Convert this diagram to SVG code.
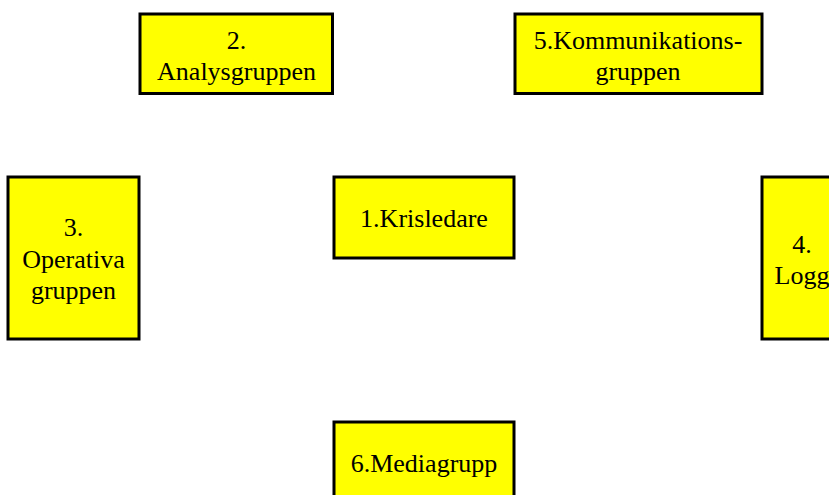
<svg xmlns="http://www.w3.org/2000/svg" width="829" height="495" viewBox="0 0 829 495">
<style>
.box{fill:#FFFF00;stroke:#000;stroke-width:3}
.t{font-family:"Liberation Serif","Times New Roman",serif;font-size:26px;fill:#000;text-anchor:middle}
</style>
<rect width="829" height="495" fill="#fff"/>
<g id="connectors"></g>
<g id="node2">
<rect class="box" x="140" y="14" width="192.5" height="79.5"/>
<text class="t" x="236.5" y="48.5">2.</text>
<text class="t" x="236.5" y="80">Analysgruppen</text>
</g>
<g id="node5">
<rect class="box" x="515" y="14" width="247" height="79.5"/>
<text class="t" x="638" y="48.5">5.Kommunikations-</text>
<text class="t" x="638" y="80">gruppen</text>
</g>
<g id="node3">
<rect class="box" x="8" y="177" width="131" height="162"/>
<text class="t" x="73.5" y="236">3.</text>
<text class="t" x="73.5" y="268">Operativa</text>
<text class="t" x="73.5" y="298.5">gruppen</text>
</g>
<g id="node1">
<rect class="box" x="334" y="177" width="180" height="81"/>
<text class="t" x="424" y="227">1.Krisledare</text>
</g>
<g id="node4">
<rect class="box" x="762" y="177" width="100" height="162"/>
<text class="t" x="802" y="252.5">4.</text>
<text class="t" x="802" y="283.5">Logg</text>
</g>
<g id="node6">
<rect class="box" x="334" y="422" width="180" height="100"/>
<text class="t" x="424" y="472">6.Mediagrupp</text>
</g>
</svg>
